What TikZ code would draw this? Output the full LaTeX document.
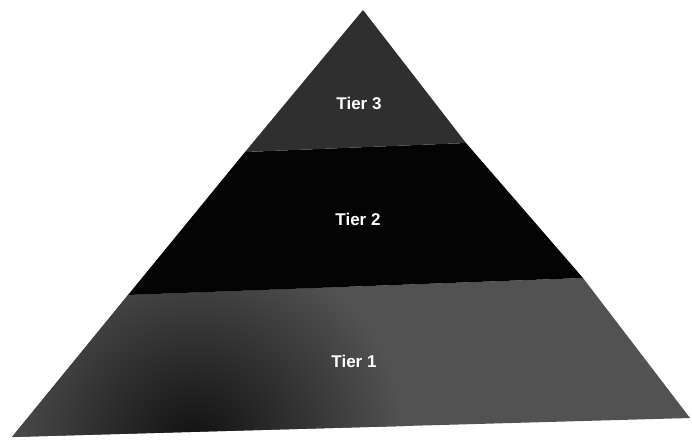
\documentclass[tikz,border=0pt]{standalone}
\usepackage{fontspec}
\setmainfont{Liberation Sans}
\begin{document}
\begin{tikzpicture}[x=1pt,y=-1pt,
  tierlabel/.style={text=white, font=\bfseries\fontsize{17}{20}\selectfont, inner sep=0pt}]
\useasboundingbox (0,0) rectangle (692,441);
\definecolor{tthree}{HTML}{2F2F2F}
\definecolor{ttwo}{HTML}{040404}
\definecolor{tone}{HTML}{525252}
\coordinate (apex) at (363,10);
\coordinate (l32) at (245,152);
\coordinate (r32) at (466,143);
\coordinate (l21) at (128,295);
\coordinate (r21) at (583,278);
\coordinate (bl) at (12,437);
\coordinate (br) at (690,418);
% tier 1
\fill[tone] (l21) -- (r21) -- (br) -- (bl) -- cycle;
\begin{scope}
  \clip (l21) -- (r21) -- (br) -- (bl) -- cycle;
  \shade[inner color=black!80!tone, outer color=tone] (195,445) circle (210);
\end{scope}
% tier 2
\fill[ttwo] (l32) -- (r32) -- (r21) -- (l21) -- cycle;
% tier 3
\fill[tthree] (apex) -- (r32) -- (l32) -- cycle;
\node[tierlabel] (t3) at (359,103) {Tier 3};
\node[tierlabel] (t2) at (358,219) {Tier 2};
\node[tierlabel] (t1) at (354,361) {Tier 1};
\end{tikzpicture}
\end{document}
